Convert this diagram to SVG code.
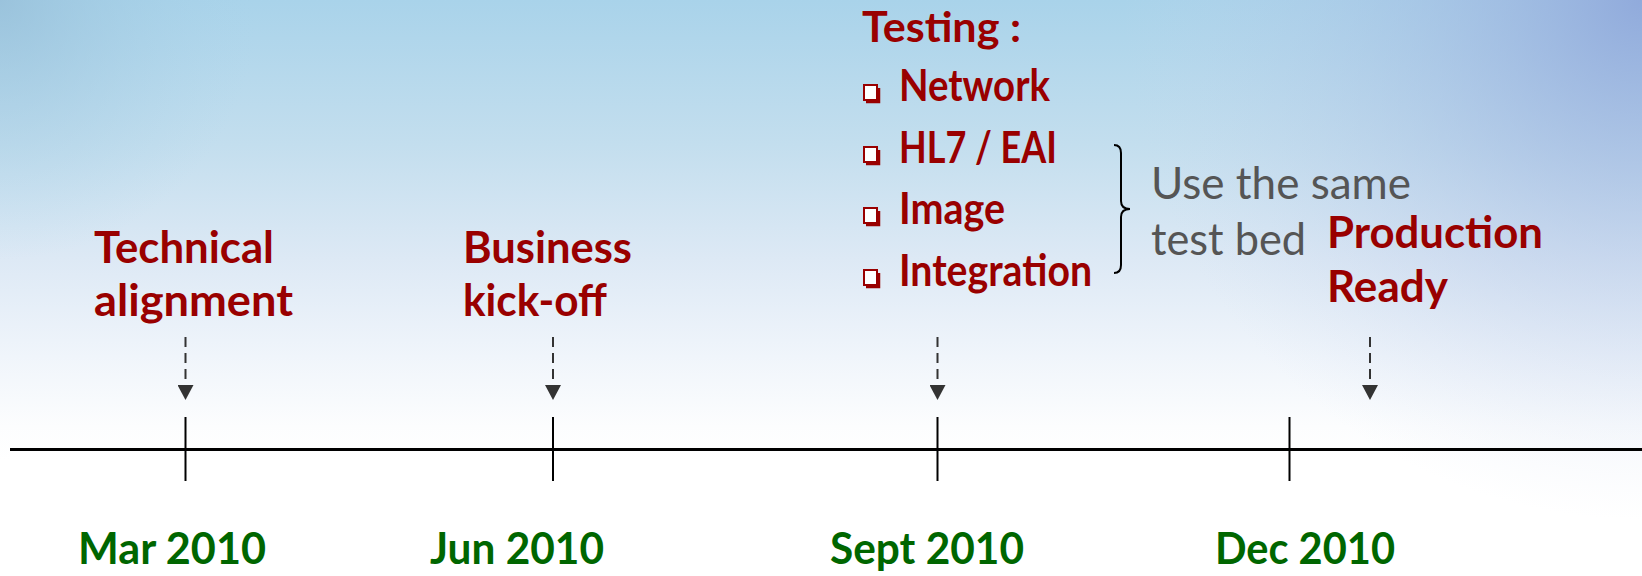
<svg xmlns="http://www.w3.org/2000/svg" width="1642" height="576" viewBox="0 0 1642 576">
<defs>
<linearGradient id="bg" x1="0" y1="0" x2="0" y2="1">
<stop offset="0" stop-color="#a9d3ea"/>
<stop offset="0.25" stop-color="#c3deee"/>
<stop offset="0.45" stop-color="#dde9f5"/>
<stop offset="0.62" stop-color="#f0f5fb"/>
<stop offset="0.74" stop-color="#fcfdfe"/>
<stop offset="0.8" stop-color="#ffffff"/>
</linearGradient>
<radialGradient id="tr" cx="1642" cy="0" r="520" gradientUnits="userSpaceOnUse">
<stop offset="0" stop-color="#8ea6da" stop-opacity="0.9"/>
<stop offset="0.5" stop-color="#a8bde3" stop-opacity="0.4"/>
<stop offset="1" stop-color="#c8d6ee" stop-opacity="0"/>
</radialGradient>
<radialGradient id="tl" cx="0" cy="0" r="260" gradientUnits="userSpaceOnUse">
<stop offset="0" stop-color="#94bcd6" stop-opacity="0.7"/>
<stop offset="1" stop-color="#a9d3ea" stop-opacity="0"/>
</radialGradient>
<marker id="ah" viewBox="0 0 15 16" refX="0" refY="8" markerWidth="15" markerHeight="16" markerUnits="userSpaceOnUse" orient="auto">
<path d="M0,0 L15,8 L0,16 Z" fill="#333333"/>
</marker>
<style>
.lbl{font-family:Lato,"Liberation Sans",sans-serif;font-weight:bold;font-size:44px;fill:#990000}
.date{font-family:Lato,"Liberation Sans",sans-serif;font-weight:bold;font-size:44px;fill:#006600}
.note{font-family:Lato,"Liberation Sans",sans-serif;font-size:44px;fill:#555555}
.dash{stroke:#333333;stroke-width:2;stroke-dasharray:10,6;fill:none}
.tick{stroke:#000;stroke-width:2}
.box{fill:#fff;stroke:#990000;stroke-width:2}
.shadow{fill:none;stroke:#990000;stroke-width:2.5}
</style>
</defs>
<rect x="0" y="0" width="1642" height="576" fill="url(#bg)"/>
<rect x="0" y="0" width="1642" height="576" fill="url(#tr)"/>
<rect x="0" y="0" width="1642" height="576" fill="url(#tl)"/>

<g id="timeline">
<line x1="10" y1="449.5" x2="1642" y2="449.5" stroke="#000" stroke-width="3"/>
<line class="tick" x1="185.5" y1="417" x2="185.5" y2="481"/>
<line class="tick" x1="553" y1="417" x2="553" y2="481"/>
<line class="tick" x1="937.5" y1="417" x2="937.5" y2="481"/>
<line class="tick" x1="1289.5" y1="417" x2="1289.5" y2="481"/>
</g>

<g id="connectors">
<line class="dash" x1="185.5" y1="337" x2="185.5" y2="385" marker-end="url(#ah)"/>
<line class="dash" x1="553" y1="337" x2="553" y2="385" marker-end="url(#ah)"/>
<line class="dash" x1="937.5" y1="337" x2="937.5" y2="385" marker-end="url(#ah)"/>
<line class="dash" x1="1370" y1="337" x2="1370" y2="385" marker-end="url(#ah)"/>
</g>

<g id="node-technical">
<text class="lbl" x="94" y="263" textLength="180" lengthAdjust="spacingAndGlyphs">Technical</text>
<text class="lbl" x="94" y="316" textLength="199" lengthAdjust="spacingAndGlyphs">alignment</text>
</g>
<g id="node-business">
<text class="lbl" x="463" y="263" textLength="169" lengthAdjust="spacingAndGlyphs">Business</text>
<text class="lbl" x="463" y="316" textLength="144" lengthAdjust="spacingAndGlyphs">kick-off</text>
</g>
<g id="node-testing">
<text class="lbl" x="862" y="42" style="font-size:42px" textLength="159" lengthAdjust="spacingAndGlyphs">Testing :</text>
<g>
<polyline class="shadow" points="866,102 879,102 879,88"/>
<rect class="box" x="864" y="85" width="13" height="15"/>
<text class="lbl" x="899" y="101" textLength="151" lengthAdjust="spacingAndGlyphs">Network</text>
</g>
<g>
<polyline class="shadow" points="866,164 879,164 879,150"/>
<rect class="box" x="864" y="147" width="13" height="15"/>
<text class="lbl" x="899" y="163" textLength="158" lengthAdjust="spacingAndGlyphs">HL7 / EAI</text>
</g>
<g>
<polyline class="shadow" points="866,225 879,225 879,211"/>
<rect class="box" x="864" y="208" width="13" height="15"/>
<text class="lbl" x="899" y="224" textLength="106" lengthAdjust="spacingAndGlyphs">Image</text>
</g>
<g>
<polyline class="shadow" points="866,287 879,287 879,273"/>
<rect class="box" x="864" y="270" width="13" height="15"/>
<text class="lbl" x="899" y="286" textLength="193" lengthAdjust="spacingAndGlyphs">Integration</text>
</g>
</g>
<g id="node-testbed">
<path d="M1114,145 Q1121,145 1121,153 L1121,201 Q1121,209 1130,209 Q1121,209 1121,217 L1121,265 Q1121,273 1114,273" fill="none" stroke="#000" stroke-width="2"/>
<text class="note" x="1151" y="199" textLength="260" lengthAdjust="spacingAndGlyphs">Use the same</text>
<text class="note" x="1151" y="255" textLength="155" lengthAdjust="spacingAndGlyphs">test bed</text>
</g>
<g id="node-production">
<text class="lbl" x="1327" y="248" textLength="216" lengthAdjust="spacingAndGlyphs">Production</text>
<text class="lbl" x="1327" y="302" textLength="121" lengthAdjust="spacingAndGlyphs">Ready</text>
</g>

<g id="dates">
<text class="date" x="78" y="564" textLength="188" lengthAdjust="spacingAndGlyphs">Mar 2010</text>
<text class="date" x="430" y="564" textLength="174" lengthAdjust="spacingAndGlyphs">Jun 2010</text>
<text class="date" x="830" y="564" textLength="194" lengthAdjust="spacingAndGlyphs">Sept 2010</text>
<text class="date" x="1215" y="564" textLength="180" lengthAdjust="spacingAndGlyphs">Dec 2010</text>
</g>
</svg>
